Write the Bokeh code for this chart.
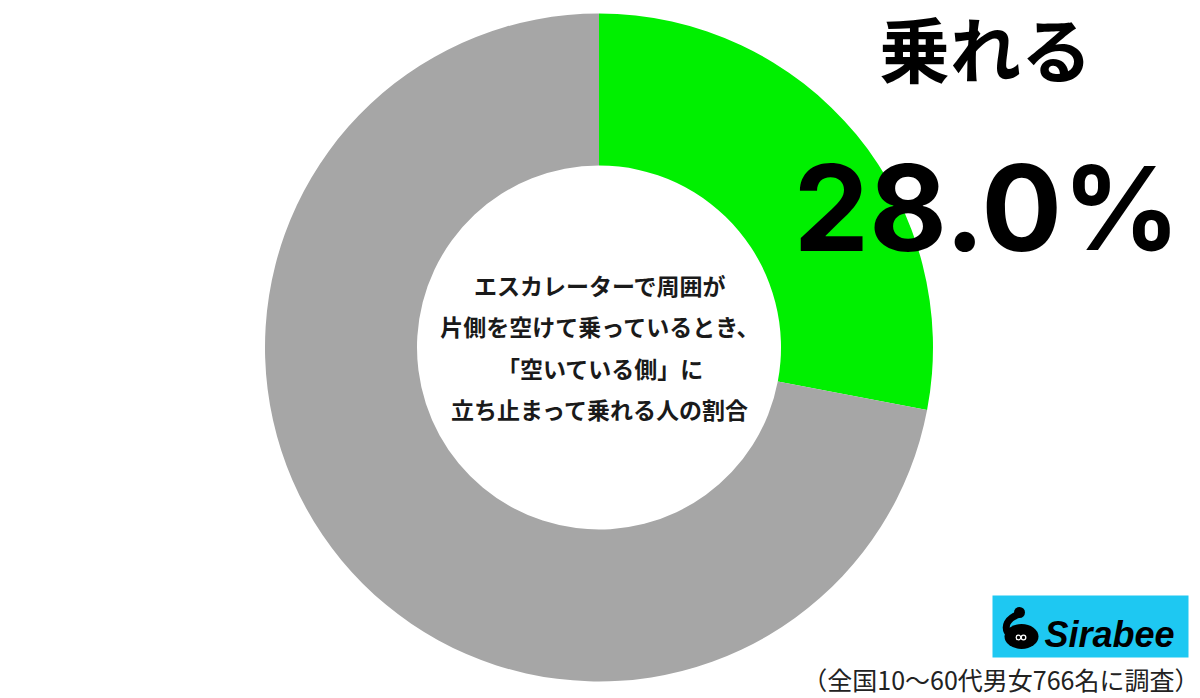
import numpy as np
from bokeh.plotting import figure
from bokeh.models import Range1d, ColumnDataSource
from bokeh.embed import file_html
from bokeh.resources import INLINE
from bokeh.core.properties import value

# ---- data ----
categories = ["乗れる", "乗れない"]
values = [28.0, 72.0]
colors = ["#00F000", "#A6A6A6"]
question_lines = [
    "エスカレーターで周囲が",
    "片側を空けて乗っているとき、",
    "「空いている側」に",
    "立ち止まって乗れる人の割合",
]
note = "（全国10〜60代男女766名に調査）"
brand = "Sirabee"

# ---- layout (reference pixel coordinates) ----
W, H = 1200, 698


def Y(y):
    return H - y


p = figure(width=W, height=H, x_range=Range1d(0, W), y_range=Range1d(0, H),
           output_backend="svg", toolbar_location=None, min_border=0)
p.axis.visible = False
p.grid.visible = False
p.outline_line_color = None
p.background_fill_color = "white"
p.border_fill_color = "white"

total = sum(values)
cum = np.cumsum([0.0] + values)
src = ColumnDataSource(dict(
    cat=categories,
    start=np.pi / 2 - 2 * np.pi * cum[:-1] / total,
    end=np.pi / 2 - 2 * np.pi * cum[1:] / total,
    color=colors,
))
p.annular_wedge(x=598.5, y=Y(347), inner_radius=182, outer_radius=334,
                start_angle="start", end_angle="end", direction="clock",
                fill_color="color", line_color=None, source=src)

# headline
p.text(x=[985], y=[Y(45)], text=[categories[0]], text_font=value("Noto Sans CJK JP"),
       text_font_style="bold", text_font_size="71px", text_align="center",
       text_baseline="middle", text_color="black")
p.text(x=[793], y=[Y(207)], text=[f"{values[0]:.1f}"], text_font=value("Inter"),
       text_font_style="bold", text_font_size="120px", text_align="left",
       text_baseline="middle", text_color="black")
p.text(x=[1062], y=[Y(207)], text=["%"], text_font=value("Inter"),
       text_font_style="bold", text_font_size="116px", text_align="left",
       text_baseline="middle", text_color="black")

# center question
ys = [284, 325, 367, 408]
p.text(x=[600] * len(question_lines), y=[Y(v) for v in ys], text=question_lines,
       text_font=value("Noto Sans CJK JP"), text_font_style="bold", text_font_size="23px",
       text_align="center", text_baseline="middle", text_color="#1a1a1a")

# logo
p.quad(left=[992], right=[1188], bottom=[Y(657)], top=[Y(595)], fill_color="#1EC8F2", line_color=None)
p.ellipse(x=[1021], y=[Y(636)], width=34, height=25, fill_color="black", line_color=None)
p.bezier(x0=[1018], y0=[Y(614)], x1=[1007], y1=[Y(632)], cx0=[1006], cy0=[Y(618)], cx1=[1004], cy1=[Y(626)],
         line_color="black", line_width=7)
p.circle(x=[1019], y=[Y(612)], radius=5.5, fill_color="black", line_color=None)
p.circle(x=[1018, 1023], y=[Y(637), Y(637)], radius=2.3, fill_color=None, line_color="white", line_width=1.3)
p.text(x=[1044], y=[Y(634)], text=[brand], text_font=value("Liberation Sans"),
       text_font_style="bold italic", text_font_size="36px", text_align="left",
       text_baseline="middle", text_color="black")

# note
p.text(x=[1199], y=[Y(678)], text=[note], text_font=value("Noto Sans CJK JP"),
       text_font_size="25px", text_align="right", text_baseline="middle", text_color="#222222")

open("out.html", "w").write(file_html(p, INLINE))
